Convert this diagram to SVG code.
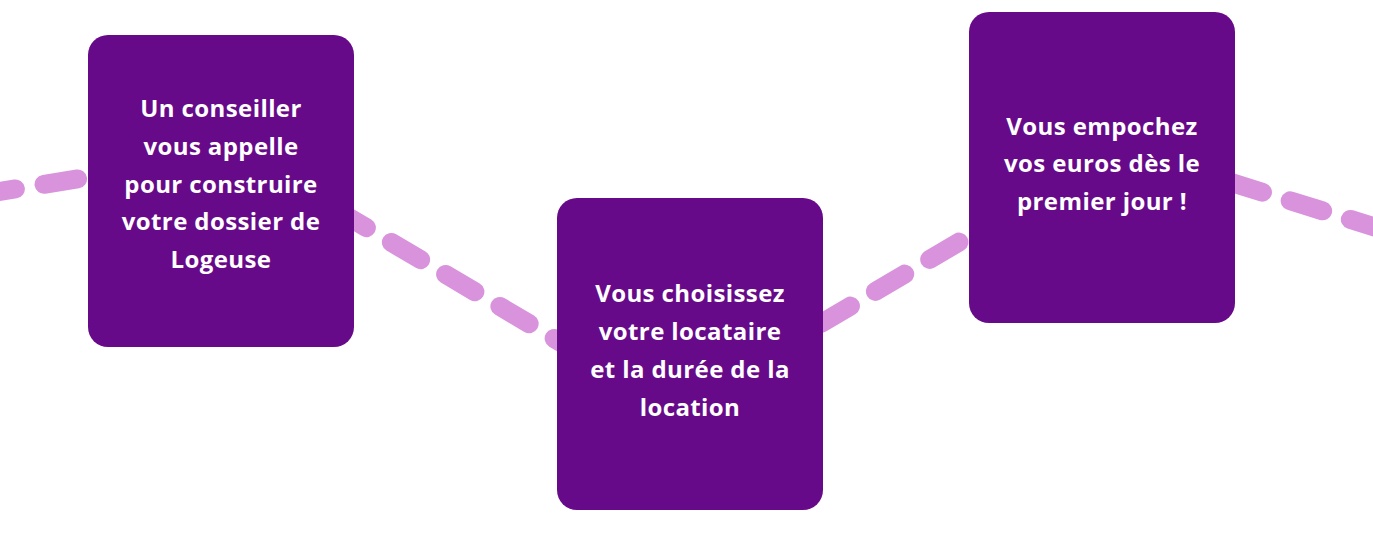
<svg xmlns="http://www.w3.org/2000/svg" width="1373" height="537" viewBox="0 0 1373 537">
<style>
.box{fill:#670A89}
.dash{fill:none;stroke:#D893DC;stroke-width:19;stroke-linecap:round;stroke-dasharray:34 29}
.lbl{font-family:"Open Sans","Liberation Sans",sans-serif;font-weight:700;font-size:24px;letter-spacing:0.4px;fill:#FFFFFF;text-anchor:middle}
</style>
<rect width="1373" height="537" fill="#FFFFFF"/>
<g id="connectors">
<line class="dash" x1="-18.2" y1="194.3" x2="150" y2="167.4"/>
<line class="dash" x1="337.1" y1="210.4" x2="600" y2="365.5"/>
<line class="dash" x1="766.9" y1="355.4" x2="1050" y2="188.4"/>
<line class="dash" x1="1169.8" y1="163.5" x2="1420" y2="241"/>
</g>
<g id="step1">
<rect class="box" x="88" y="35" width="266" height="312" rx="20"/>
<text class="lbl" x="221" y="117">Un conseiller</text>
<text class="lbl" x="221" y="155">vous appelle</text>
<text class="lbl" x="221" y="193">pour construire</text>
<text class="lbl" x="221" y="230">votre dossier de</text>
<text class="lbl" x="221" y="268">Logeuse</text>
</g>
<g id="step2">
<rect class="box" x="557" y="198" width="266" height="312" rx="20"/>
<text class="lbl" x="690" y="302">Vous choisissez</text>
<text class="lbl" x="690" y="340">votre locataire</text>
<text class="lbl" x="690" y="378">et la durée de la</text>
<text class="lbl" x="690" y="416">location</text>
</g>
<g id="step3">
<rect class="box" x="969" y="12" width="266" height="311" rx="20"/>
<text class="lbl" x="1102" y="135">Vous empochez</text>
<text class="lbl" x="1102" y="172">vos euros dès le</text>
<text class="lbl" x="1102" y="210">premier jour !</text>
</g>
</svg>
